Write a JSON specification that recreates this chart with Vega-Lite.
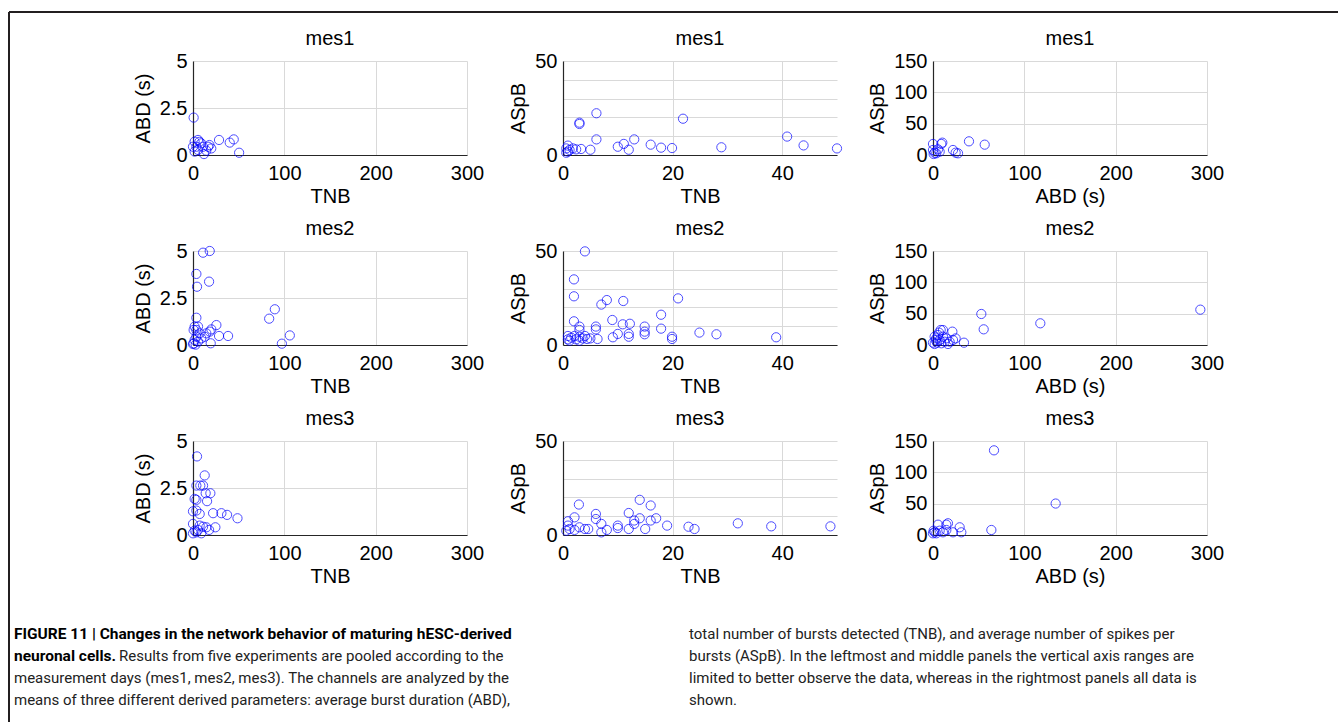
{
  "$schema": "https://vega.github.io/schema/vega-lite/v6.json",
  "autosize": {"type": "pad"},
  "padding": {"left": 8, "top": 11, "right": 0, "bottom": 0},
  "background": "#ffffff",
  "datasets": {
    "pts": [
      {"p":"A1","x":0.7,"y":1.99},{"p":"A1","x":28.5,"y":0.8},{"p":"A1","x":40.2,"y":0.66},{"p":"A1","x":44.6,"y":0.83},{"p":"A1","x":50.5,"y":0.12},{"p":"A1","x":5.5,"y":0.8},{"p":"A1","x":1.8,"y":0.71},{"p":"A1","x":3.7,"y":0.44},{"p":"A1","x":0,"y":0.44},{"p":"A1","x":1.8,"y":0.18},{"p":"A1","x":12,"y":0.05},{"p":"A1","x":11,"y":0.44},{"p":"A1","x":16.5,"y":0.44},{"p":"A1","x":20,"y":0.35},{"p":"A1","x":9,"y":0.62},{"p":"A1","x":5.5,"y":0.27},{"p":"A1","x":14.6,"y":0.23},{"p":"A1","x":18,"y":0.53},{"p":"A1","x":7,"y":0.7},
      {"p":"B1","x":6.1,"y":22.2},{"p":"B1","x":3.0,"y":17.2},{"p":"B1","x":3.0,"y":16.5},{"p":"B1","x":6.1,"y":8.3},{"p":"B1","x":21.9,"y":19.3},{"p":"B1","x":13.0,"y":8.3},{"p":"B1","x":40.9,"y":9.8},{"p":"B1","x":43.9,"y":5.1},{"p":"B1","x":50,"y":3.5},{"p":"B1","x":28.9,"y":4.1},{"p":"B1","x":19.9,"y":3.7},{"p":"B1","x":17.9,"y":3.9},{"p":"B1","x":16.0,"y":5.5},{"p":"B1","x":11.1,"y":5.9},{"p":"B1","x":10.0,"y":4.4},{"p":"B1","x":12.0,"y":2.8},{"p":"B1","x":5.0,"y":2.8},{"p":"B1","x":0.9,"y":5.0},{"p":"B1","x":0.6,"y":3.5},{"p":"B1","x":1.2,"y":2.7},{"p":"B1","x":1.8,"y":3.5},{"p":"B1","x":2.4,"y":3.0},{"p":"B1","x":3.3,"y":3.2},{"p":"B1","x":0.9,"y":1.8},{"p":"B1","x":0.6,"y":1.2},
      {"p":"C1","x":39.4,"y":21.8},{"p":"C1","x":56.6,"y":16.5},{"p":"C1","x":10.2,"y":19.7},{"p":"C1","x":9.1,"y":17.6},{"p":"C1","x":0,"y":17.6},{"p":"C1","x":21.9,"y":8.0},{"p":"C1","x":24.8,"y":3.7},{"p":"C1","x":27.4,"y":2.7},{"p":"C1","x":0,"y":8},{"p":"C1","x":1.8,"y":3.7},{"p":"C1","x":3.6,"y":2.7},{"p":"C1","x":7.3,"y":5.3},{"p":"C1","x":5.5,"y":9},{"p":"C1","x":0.7,"y":1.6},
      {"p":"A2","x":11,"y":4.91},{"p":"A2","x":18.3,"y":5.0},{"p":"A2","x":3.7,"y":3.78},{"p":"A2","x":4.4,"y":3.1},{"p":"A2","x":17.6,"y":3.37},{"p":"A2","x":89.6,"y":1.9},{"p":"A2","x":83.4,"y":1.4},{"p":"A2","x":106,"y":0.51},{"p":"A2","x":97.3,"y":0.07},{"p":"A2","x":3.7,"y":1.45},{"p":"A2","x":38.4,"y":0.48},{"p":"A2","x":25.6,"y":1.06},{"p":"A2","x":28.5,"y":0.48},{"p":"A2","x":20.1,"y":0.83},{"p":"A2","x":19.4,"y":0.09},{"p":"A2","x":14.6,"y":0.62},{"p":"A2","x":18.3,"y":0.71},{"p":"A2","x":1.8,"y":0.98},{"p":"A2","x":5.5,"y":0.98},{"p":"A2","x":3.7,"y":0.8},{"p":"A2","x":0.7,"y":0.8},{"p":"A2","x":7.3,"y":0.62},{"p":"A2","x":3.7,"y":0.44},{"p":"A2","x":1.8,"y":0.27},{"p":"A2","x":0.7,"y":0.09},{"p":"A2","x":5.5,"y":0.18},{"p":"A2","x":9.1,"y":0.35},{"p":"A2","x":12.8,"y":0.44},{"p":"A2","x":2.9,"y":0.02},{"p":"A2","x":0,"y":0.05},
      {"p":"B2","x":4.0,"y":49.8},{"p":"B2","x":2.0,"y":34.9},{"p":"B2","x":2.0,"y":25.9},{"p":"B2","x":7.0,"y":21.5},{"p":"B2","x":8.0,"y":23.9},{"p":"B2","x":11.0,"y":23.4},{"p":"B2","x":21.0,"y":24.8},{"p":"B2","x":17.9,"y":16.1},{"p":"B2","x":2.0,"y":12.6},{"p":"B2","x":9.0,"y":13.3},{"p":"B2","x":10.9,"y":11.0},{"p":"B2","x":12.2,"y":11.3},{"p":"B2","x":14.9,"y":9.8},{"p":"B2","x":14.9,"y":7.1},{"p":"B2","x":14.9,"y":5.7},{"p":"B2","x":17.9,"y":8.7},{"p":"B2","x":6.0,"y":9.8},{"p":"B2","x":6.0,"y":8.3},{"p":"B2","x":3.0,"y":9.8},{"p":"B2","x":3.0,"y":8.0},{"p":"B2","x":10.0,"y":5.9},{"p":"B2","x":9.1,"y":4.1},{"p":"B2","x":12.0,"y":5.9},{"p":"B2","x":12.0,"y":4.4},{"p":"B2","x":19.9,"y":4.4},{"p":"B2","x":19.9,"y":3.2},{"p":"B2","x":24.9,"y":6.6},{"p":"B2","x":28.0,"y":5.7},{"p":"B2","x":38.9,"y":4.1},{"p":"B2","x":0.9,"y":4.8},{"p":"B2","x":0.9,"y":3.0},{"p":"B2","x":1.5,"y":3.9},{"p":"B2","x":2.1,"y":4.8},{"p":"B2","x":2.4,"y":3.0},{"p":"B2","x":3.0,"y":4.4},{"p":"B2","x":3.6,"y":3.5},{"p":"B2","x":4.0,"y":4.8},{"p":"B2","x":4.4,"y":3.2},{"p":"B2","x":5.0,"y":3.5},{"p":"B2","x":6.3,"y":3.2},{"p":"B2","x":1.2,"y":2.3},{"p":"B2","x":3.0,"y":2.3},
      {"p":"C2","x":292.7,"y":56.4},{"p":"C2","x":117.5,"y":34.6},{"p":"C2","x":52.9,"y":49.5},{"p":"C2","x":55.5,"y":25.0},{"p":"C2","x":8.4,"y":23.9},{"p":"C2","x":10.9,"y":23.9},{"p":"C2","x":21.2,"y":21.3},{"p":"C2","x":33.9,"y":3.7},{"p":"C2","x":1.8,"y":13.3},{"p":"C2","x":3.6,"y":10.6},{"p":"C2","x":5.5,"y":16},{"p":"C2","x":7.3,"y":8},{"p":"C2","x":10.9,"y":13.3},{"p":"C2","x":14.6,"y":10.6},{"p":"C2","x":18.2,"y":5.3},{"p":"C2","x":21.9,"y":8},{"p":"C2","x":24.8,"y":10.6},{"p":"C2","x":0,"y":3.7},{"p":"C2","x":1.8,"y":1.6},{"p":"C2","x":4.4,"y":3.7},{"p":"C2","x":9.1,"y":2.7},{"p":"C2","x":12.8,"y":5.3},{"p":"C2","x":16.4,"y":1.6},{"p":"C2","x":2.9,"y":8},{"p":"C2","x":6.6,"y":19.7},
      {"p":"A3","x":4.4,"y":4.18},{"p":"A3","x":12.8,"y":3.17},{"p":"A3","x":3.7,"y":2.63},{"p":"A3","x":8.0,"y":2.63},{"p":"A3","x":11,"y":2.63},{"p":"A3","x":19.0,"y":2.22},{"p":"A3","x":13.9,"y":2.22},{"p":"A3","x":15.4,"y":1.8},{"p":"A3","x":1.8,"y":1.92},{"p":"A3","x":3.7,"y":1.87},{"p":"A3","x":0,"y":1.26},{"p":"A3","x":3.7,"y":1.3},{"p":"A3","x":7.3,"y":1.12},{"p":"A3","x":22,"y":1.16},{"p":"A3","x":31.1,"y":1.16},{"p":"A3","x":37.3,"y":1.07},{"p":"A3","x":48.7,"y":0.89},{"p":"A3","x":24.5,"y":0.41},{"p":"A3","x":0,"y":0.59},{"p":"A3","x":7.3,"y":0.5},{"p":"A3","x":11,"y":0.44},{"p":"A3","x":14.6,"y":0.41},{"p":"A3","x":17.6,"y":0.27},{"p":"A3","x":1.8,"y":0.23},{"p":"A3","x":3.7,"y":0.14},{"p":"A3","x":0,"y":0.09},{"p":"A3","x":5.5,"y":0.27},{"p":"A3","x":9.1,"y":0.09},
      {"p":"B3","x":2.9,"y":16.2},{"p":"B3","x":14.0,"y":18.7},{"p":"B3","x":16.0,"y":15.7},{"p":"B3","x":12.0,"y":11.7},{"p":"B3","x":6.0,"y":11.2},{"p":"B3","x":6.0,"y":8.5},{"p":"B3","x":2.1,"y":9.4},{"p":"B3","x":0.9,"y":7.3},{"p":"B3","x":14.0,"y":8.9},{"p":"B3","x":17.0,"y":8.9},{"p":"B3","x":16.0,"y":7.7},{"p":"B3","x":13.0,"y":7.7},{"p":"B3","x":13.0,"y":5.9},{"p":"B3","x":7.0,"y":5.9},{"p":"B3","x":19.0,"y":5.0},{"p":"B3","x":22.9,"y":4.4},{"p":"B3","x":24.0,"y":3.2},{"p":"B3","x":31.9,"y":6.2},{"p":"B3","x":38.0,"y":4.6},{"p":"B3","x":48.8,"y":4.6},{"p":"B3","x":10.0,"y":5.0},{"p":"B3","x":10.0,"y":3.7},{"p":"B3","x":12.0,"y":3.2},{"p":"B3","x":15.0,"y":3.2},{"p":"B3","x":8.0,"y":2.7},{"p":"B3","x":7.0,"y":1.4},{"p":"B3","x":4.0,"y":3.2},{"p":"B3","x":4.6,"y":3.2},{"p":"B3","x":0.9,"y":5.0},{"p":"B3","x":1.2,"y":3.2},{"p":"B3","x":0.6,"y":2.3},{"p":"B3","x":2.1,"y":2.7},{"p":"B3","x":3.0,"y":4.1},
      {"p":"C3","x":66.8,"y":135.1},{"p":"C3","x":134.3,"y":50.2},{"p":"C3","x":63.9,"y":8.0},{"p":"C3","x":16.4,"y":18.7},{"p":"C3","x":14.6,"y":16.5},{"p":"C3","x":5.5,"y":16.5},{"p":"C3","x":29.2,"y":12.3},{"p":"C3","x":31.0,"y":4.3},{"p":"C3","x":21.9,"y":4.3},{"p":"C3","x":1.8,"y":4.3},{"p":"C3","x":0,"y":2.7},{"p":"C3","x":3.6,"y":2.7},{"p":"C3","x":7.3,"y":6.9},{"p":"C3","x":10.9,"y":4.3},{"p":"C3","x":0.7,"y":6.9},{"p":"C3","x":14.6,"y":8}
    ],
    "cap": [
      {"col":0,"line":0,"part":"bold","text":"FIGURE 11 | Changes in the network behavior of maturing hESC-derived"},
      {"col":0,"line":1,"part":"bold","text":"neuronal cells."},
      {"col":0,"line":1,"part":"cont","text":"Results from five experiments are pooled according to the"},
      {"col":0,"line":2,"part":"plain","text":"measurement days (mes1, mes2, mes3). The channels are analyzed by the"},
      {"col":0,"line":3,"part":"plain","text":"means of three different derived parameters: average burst duration (ABD),"},
      {"col":1,"line":0,"part":"plain","text":"total number of bursts detected (TNB), and average number of spikes per"},
      {"col":1,"line":1,"part":"plain","text":"bursts (ASpB). In the leftmost and middle panels the vertical axis ranges are"},
      {"col":1,"line":2,"part":"plain","text":"limited to better observe the data, whereas in the rightmost panels all data is"},
      {"col":1,"line":3,"part":"plain","text":"shown."}
    ]
  },
  "config": {
    "font": "Liberation Sans",
    "view": {"stroke": null},
    "axis": {
      "domainColor": "#262626", "domainWidth": 1.2,
      "gridColor": "#d9d9d9", "gridWidth": 1,
      "ticks": false, "tickSize": 0,
      "labelFont": "Liberation Sans", "labelFontSize": 20, "labelColor": "#000000",
      "titleFont": "Liberation Sans", "titleFontSize": 20, "titleFontWeight": "normal", "titleColor": "#000000",
      "labelOverlap": false
    },
    "axisX": {"labelPadding": 8, "titlePadding": 3, "labelFlush": false},
    "axisY": {"labelPadding": 6, "titlePadding": 6},
    "title": {"fontSize": 20, "fontWeight": "normal", "color": "#000000", "font": "Liberation Sans", "baseline": "alphabetic", "offset": 2},
    "point": {"shape": "circle", "filled": false, "color": "#0000ff", "size": 85, "strokeWidth": 1}
  },
  "columns": 3,
  "spacing": {"row": 96, "column": 96},
  "bounds": "flush",
  "concat": [
    {"width": 274, "height": 94, "title": "mes1", "data": {"name": "pts"}, "transform": [{"filter": "datum.p == 'A1'"}], "mark": "point",
     "encoding": {"x": {"field": "x", "type": "quantitative", "scale": {"domain": [0, 300], "nice": false}, "axis": {"title": "TNB", "values": [0, 100, 200, 300]}},
                  "y": {"field": "y", "type": "quantitative", "scale": {"domain": [0, 5], "nice": false}, "axis": {"title": "ABD (s)", "values": [0, 2.5, 5], "format": ".1~f"}}}},
    {"width": 274, "height": 94, "title": "mes1", "data": {"name": "pts"}, "transform": [{"filter": "datum.p == 'B1'"}], "mark": "point",
     "encoding": {"x": {"field": "x", "type": "quantitative", "scale": {"domain": [0, 50], "nice": false}, "axis": {"title": "TNB", "values": [0, 20, 40]}},
                  "y": {"field": "y", "type": "quantitative", "scale": {"domain": [0, 50], "nice": false}, "axis": {"title": "ASpB", "values": [0, 10, 20, 30, 40, 50], "labelExpr": "datum.value == 0 || datum.value == 50 ? datum.label : ''"}}}},
    {"width": 274, "height": 94, "title": "mes1", "data": {"name": "pts"}, "transform": [{"filter": "datum.p == 'C1'"}], "mark": "point",
     "encoding": {"x": {"field": "x", "type": "quantitative", "scale": {"domain": [0, 300], "nice": false}, "axis": {"title": "ABD (s)", "values": [0, 100, 200, 300]}},
                  "y": {"field": "y", "type": "quantitative", "scale": {"domain": [0, 150], "nice": false}, "axis": {"title": "ASpB", "values": [0, 50, 100, 150]}}}},
    {"width": 274, "height": 94, "title": "mes2", "data": {"name": "pts"}, "transform": [{"filter": "datum.p == 'A2'"}], "mark": "point",
     "encoding": {"x": {"field": "x", "type": "quantitative", "scale": {"domain": [0, 300], "nice": false}, "axis": {"title": "TNB", "values": [0, 100, 200, 300]}},
                  "y": {"field": "y", "type": "quantitative", "scale": {"domain": [0, 5], "nice": false}, "axis": {"title": "ABD (s)", "values": [0, 2.5, 5], "format": ".1~f"}}}},
    {"width": 274, "height": 94, "title": "mes2", "data": {"name": "pts"}, "transform": [{"filter": "datum.p == 'B2'"}], "mark": "point",
     "encoding": {"x": {"field": "x", "type": "quantitative", "scale": {"domain": [0, 50], "nice": false}, "axis": {"title": "TNB", "values": [0, 20, 40]}},
                  "y": {"field": "y", "type": "quantitative", "scale": {"domain": [0, 50], "nice": false}, "axis": {"title": "ASpB", "values": [0, 10, 20, 30, 40, 50], "labelExpr": "datum.value == 0 || datum.value == 50 ? datum.label : ''"}}}},
    {"width": 274, "height": 94, "title": "mes2", "data": {"name": "pts"}, "transform": [{"filter": "datum.p == 'C2'"}], "mark": "point",
     "encoding": {"x": {"field": "x", "type": "quantitative", "scale": {"domain": [0, 300], "nice": false}, "axis": {"title": "ABD (s)", "values": [0, 100, 200, 300]}},
                  "y": {"field": "y", "type": "quantitative", "scale": {"domain": [0, 150], "nice": false}, "axis": {"title": "ASpB", "values": [0, 50, 100, 150]}}}},
    {"width": 274, "height": 94, "title": "mes3", "data": {"name": "pts"}, "transform": [{"filter": "datum.p == 'A3'"}], "mark": "point",
     "encoding": {"x": {"field": "x", "type": "quantitative", "scale": {"domain": [0, 300], "nice": false}, "axis": {"title": "TNB", "values": [0, 100, 200, 300]}},
                  "y": {"field": "y", "type": "quantitative", "scale": {"domain": [0, 5], "nice": false}, "axis": {"title": "ABD (s)", "values": [0, 2.5, 5], "format": ".1~f"}}}},
    {"width": 274, "height": 94, "title": "mes3", "data": {"name": "pts"}, "transform": [{"filter": "datum.p == 'B3'"}], "mark": "point",
     "encoding": {"x": {"field": "x", "type": "quantitative", "scale": {"domain": [0, 50], "nice": false}, "axis": {"title": "TNB", "values": [0, 20, 40]}},
                  "y": {"field": "y", "type": "quantitative", "scale": {"domain": [0, 50], "nice": false}, "axis": {"title": "ASpB", "values": [0, 10, 20, 30, 40, 50], "labelExpr": "datum.value == 0 || datum.value == 50 ? datum.label : ''"}}}},
    {"width": 274, "height": 94, "title": "mes3", "data": {"name": "pts"}, "transform": [{"filter": "datum.p == 'C3'"}], "mark": "point",
     "encoding": {"x": {"field": "x", "type": "quantitative", "scale": {"domain": [0, 300], "nice": false}, "axis": {"title": "ABD (s)", "values": [0, 100, 200, 300]}},
                  "y": {"field": "y", "type": "quantitative", "scale": {"domain": [0, 150], "nice": false}, "axis": {"title": "ASpB", "values": [0, 50, 100, 150]}}}},
    {"width": 274, "height": 90,
     "layer": [
       {"data": {"name": "cap"}, "transform": [{"filter": "datum.part == 'bold'"}],
        "mark": {"type": "text", "align": "left", "baseline": "middle", "font": "Roboto", "fontSize": 15.5, "fontWeight": "bold", "color": "#000000"},
        "encoding": {"x": {"field": "col", "type": "quantitative", "scale": {"domain": [0, 1], "range": [-179, 496]}, "axis": null},
                     "y": {"field": "line", "type": "quantitative", "scale": {"domain": [0, 3], "range": [3, 69]}, "axis": null},
                     "text": {"field": "text"}}},
       {"data": {"name": "cap"}, "transform": [{"filter": "datum.part == 'plain'"}],
        "mark": {"type": "text", "align": "left", "baseline": "middle", "font": "Roboto", "fontSize": 15, "color": "#222222"},
        "encoding": {"x": {"field": "col", "type": "quantitative", "scale": {"domain": [0, 1], "range": [-179, 496]}, "axis": null},
                     "y": {"field": "line", "type": "quantitative", "scale": {"domain": [0, 3], "range": [3, 69]}, "axis": null},
                     "text": {"field": "text"}}},
       {"data": {"name": "cap"}, "transform": [{"filter": "datum.part == 'cont'"}],
        "mark": {"type": "text", "align": "left", "baseline": "middle", "font": "Roboto", "fontSize": 15, "color": "#222222", "dx": 105},
        "encoding": {"x": {"field": "col", "type": "quantitative", "scale": {"domain": [0, 1], "range": [-179, 496]}, "axis": null},
                     "y": {"field": "line", "type": "quantitative", "scale": {"domain": [0, 3], "range": [3, 69]}, "axis": null},
                     "text": {"field": "text"}}},
       {"data": {"values": [{}]},
        "mark": {"type": "rule", "color": "#231f20", "strokeWidth": 2},
        "encoding": {"x": {"datum": 0, "type": "quantitative", "scale": {"domain": [0, 1], "range": [-184, 1145]}, "axis": null},
                     "x2": {"datum": 1},
                     "y": {"datum": 0, "type": "quantitative", "scale": {"domain": [0, 1], "range": [-619, 91]}, "axis": null}}},
       {"data": {"values": [{}]},
        "mark": {"type": "rule", "color": "#231f20", "strokeWidth": 2},
        "encoding": {"x": {"datum": 0, "type": "quantitative", "scale": {"domain": [0, 1], "range": [-184, 1145]}, "axis": null},
                     "y": {"datum": 0, "type": "quantitative", "scale": {"domain": [0, 1], "range": [-619, 91]}, "axis": null},
                     "y2": {"datum": 1}}}
     ],
     "resolve": {"scale": {"x": "independent", "y": "independent"}}
    }
  ]
}
